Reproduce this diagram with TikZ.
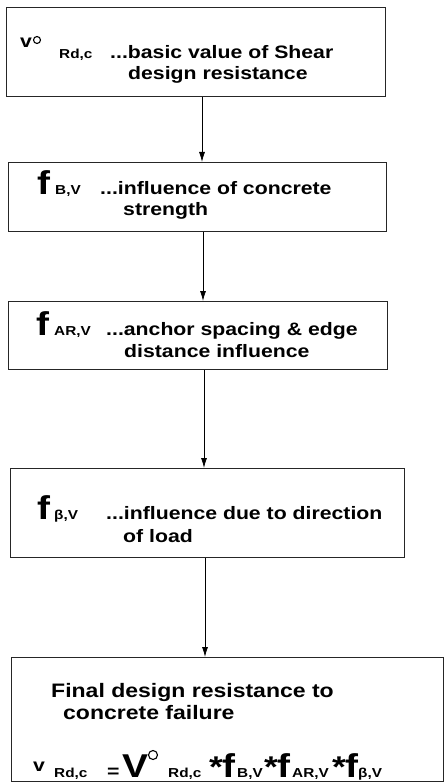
\documentclass[tikz,border=0pt]{standalone}
\usepackage{fontspec}
\setmainfont{Liberation Sans}[FakeStretch=1.18]
\usetikzlibrary{arrows.meta}
\begin{document}
\begin{tikzpicture}[x=1pt,y=-1pt,
  box/.style={draw=black!85, line width=1.3pt, rectangle, inner sep=0pt, anchor=north west},
  txt/.style={anchor=base west, inner sep=0pt, font=\fontsize{18}{20}\selectfont\bfseries},
  txtb/.style={anchor=base west, inner sep=0pt, font=\fontsize{19.5}{22}\selectfont\bfseries},
  sub/.style={anchor=base west, inner sep=0pt, font=\fontsize{13}{14}\selectfont\bfseries},
  big/.style={anchor=base west, inner sep=0pt, font=\fontsize{33}{35}\selectfont\bfseries},
  star/.style={anchor=base west, inner sep=0pt, font=\fontsize{30}{32}\selectfont\bfseries},
  deg/.style={circle, draw=black, line width=1.1pt, inner sep=0pt, minimum size=#1},
  arr/.style={draw=black, line width=0.8pt, -{Latex[length=10pt,width=6pt]}}]
\useasboundingbox (0,0) rectangle (446,783);

% boxes
\node[box, minimum width=379pt, minimum height=89pt] (b1) at (6,7) {};
\node[box, minimum width=378pt, minimum height=69pt] (b2) at (8,162) {};
\node[box, minimum width=379pt, minimum height=68pt] (b3) at (8,301) {};
\node[box, minimum width=394pt, minimum height=89pt] (b4) at (10,468) {};
\node[box, minimum width=432pt, minimum height=124pt] (b5) at (11,657) {};

% connectors
\draw[arr] (b1.south -| 202,0) -- (b2.north -| 202,0);
\draw[arr] (b2.south -| 203,0) -- (b3.north -| 203,0);
\draw[arr] (b3.south -| 204,0) -- (b4.north -| 204,0);
\draw[arr] (b4.south -| 205,0) -- (b5.north -| 205,0);

% box 1
\node[txt] (v1) at (20,48) {v};
\node[deg=7pt] (d1) at (37,40) {};
\node[sub] (r1) at (59,59) {Rd,c};
\node[txt] (l1a) at (110,59) {...basic value of Shear};
\node[txt] (l1b) at (128,80) {design resistance};

% box 2
\node[big] (f2) at (37,195) {f};
\node[sub] (s2) at (55,195) {B,V};
\node[txt] (l2a) at (100,195) {...influence of concrete};
\node[txt] (l2b) at (123,216) {strength};

% box 3
\node[big] (f3) at (36,335) {f};
\node[sub] (s3) at (54,335) {AR,V};
\node[txt] (l3a) at (106,335) {...anchor spacing \& edge};
\node[txt] (l3b) at (124,357) {distance influence};

% box 4
\node[big] (f4) at (37,519) {f};
\node[sub] (s4) at (54,519) {β,V};
\node[txt] (l4a) at (106,519) {...influence due to direction};
\node[txt] (l4b) at (123,542) {of load};

% box 5
\node[txtb] (l5a) at (51,697) {Final design resistance to};
\node[txtb] (l5b) at (63,719) {concrete failure};
\node[txt] (e1) at (33,771) {v};
\node[sub] (e2) at (54,777) {Rd,c};
\node[txt] (e3) at (107,777) {=};
\node[big] (e4) at (122,777) {V};
\node[deg=9pt] (e5) at (153,755) {};
\node[sub] (e6) at (168,777) {Rd,c};
\node[star] (e7) at (209,777) {*};
\node[big] (e8) at (222,777) {f};
\node[sub] (e9) at (237,777) {B,V};
\node[star] (e10) at (264,777) {*};
\node[big] (e11) at (277,777) {f};
\node[sub] (e12) at (292,777) {AR,V};
\node[star] (e13) at (332,777) {*};
\node[big] (e14) at (345,777) {f};
\node[sub] (e15) at (358,777) {β,V};
\end{tikzpicture}
\end{document}
